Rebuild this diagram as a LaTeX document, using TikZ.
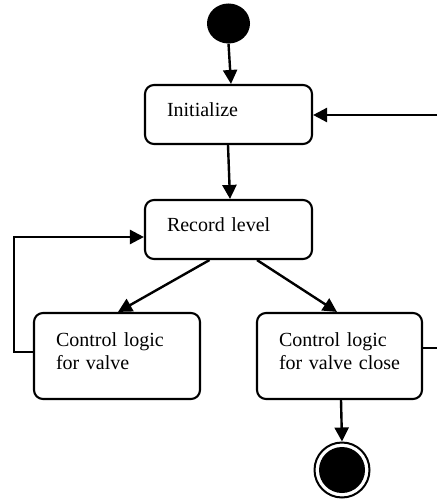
\documentclass[tikz,border=0pt]{standalone}
\usepackage{fontspec}
\setmainfont{Liberation Serif}
\usetikzlibrary{arrows.meta,shapes.geometric}

\tikzset{
  state/.style={draw, line width=2.1pt, rounded corners=9pt, align=left,
    inner xsep=22pt, inner ysep=0pt, text width=#1,
    font=\fontsize{20}{23}\selectfont},
  oneline/.style={minimum height=59pt, text depth=9pt},
  twoline/.style={minimum height=86pt, text depth=32pt},
  flow/.style={line width=2.4pt, -{Triangle[length=14pt,width=14pt]}},
  plain/.style={line width=2.2pt},
}

\begin{document}
\begin{tikzpicture}[x=1pt, y=-1pt]
  \useasboundingbox (0,0) rectangle (437,500);

  % initial and final pseudo-states
  \node[ellipse, fill=black, minimum width=43pt, minimum height=40pt, inner sep=0pt] (start) at (228.5,23.5) {};
  \node[circle, draw, line width=2pt, minimum size=55pt, inner sep=0pt] (final) at (342,470) {};
  \node[circle, fill=black, minimum size=46pt, inner sep=0pt] (finalcore) at (final) {};

  % states
  \node[state=123pt, oneline] (init) at (228.5,114.5) {Initialize};
  \node[state=123pt, oneline] (record) at (228.5,229.5) {Record level};
  \node[state=122pt, twoline] (valve) at (117,356) {Control logic\\for valve};
  \node[state=121pt, twoline] (close) at (339.5,356) {Control logic\\\mbox{for valve close}};

  % loose ends running off the edges
  \coordinate (entryR) at (437,115);
  \coordinate (exitR) at (437,348);
  \coordinate (loopL) at (14,237);

  % transitions
  \draw[flow] (start.south) -- ([xshift=2.5pt]init.north);
  \draw[flow] ([xshift=-0.5pt]init.south) -- ([xshift=1.5pt]record.north);
  \draw[flow] ([xshift=-19pt]record.south) -- ([xshift=1pt]valve.north);
  \draw[flow] ([xshift=28.5pt]record.south) -- ([xshift=-2.5pt]close.north);
  \draw[flow] ([yshift=4pt]valve.west) -| (loopL) -- (loopL -| record.west);
  \draw[flow] (entryR) -- (entryR -| init.east);
  \draw[plain] ([yshift=8pt]close.east) -- (exitR);
  \draw[flow] ([xshift=1.5pt]close.south) -- (final.north);
\end{tikzpicture}
\end{document}
